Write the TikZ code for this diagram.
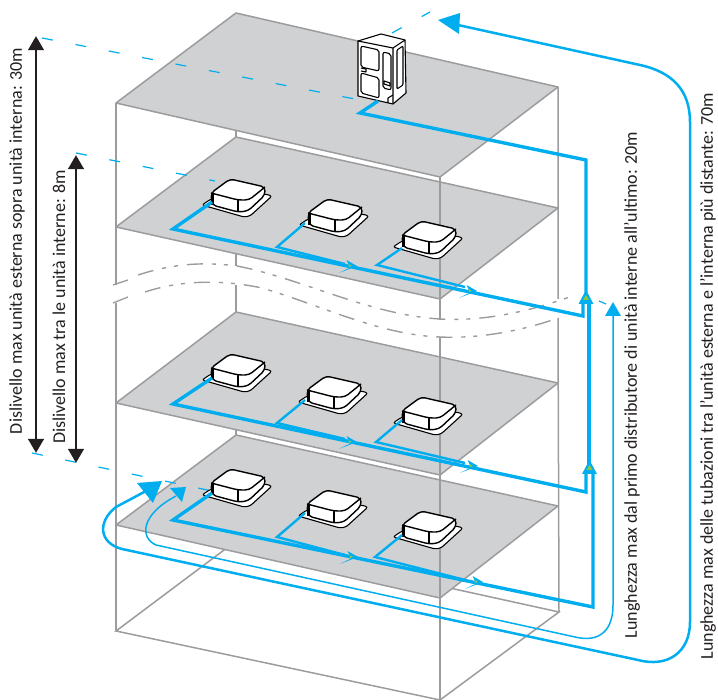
\documentclass[tikz,border=0pt]{standalone}
\usepackage{fontspec}
\setmainfont{Carlito}
\usetikzlibrary{arrows.meta}
\definecolor{pipe}{HTML}{00AEEF}
\definecolor{flr}{HTML}{D0D1D3}
\definecolor{edge}{HTML}{9C9C9E}
\definecolor{tipg}{HTML}{8DC63F}
\definecolor{ink}{HTML}{231F20}
\tikzset{
 x=1pt,y=-1pt,
 edgeline/.style={draw=edge,line width=1.5pt},
 floorplate/.style={fill=flr,draw=edge,line width=1.5pt,line join=round},
 breakline/.style={draw=edge,line width=1.4pt,dash pattern=on 16pt off 9pt on 4pt off 8pt on 4pt off 9pt},
 pipemain/.style={draw=pipe,line width=3.4pt,line join=miter},
 pipebranch/.style={draw=pipe,line width=2.4pt,line join=miter},
 loopline/.style={draw=pipe,line width=2.5pt},
 thinloop/.style={draw=pipe,line width=1.5pt},
 leader/.style={draw=pipe,line width=1.2pt,dash pattern=on 11pt off 23pt},
 dim/.style={draw=ink,line width=1.4pt,{Triangle[length=14pt,width=16pt]}-{Triangle[length=14pt,width=16pt]}},
 unitline/.style={draw=black,line width=1.1pt,line join=round},
 label/.style={rotate=90,font=\fontsize{18pt}{19pt}\selectfont,inner sep=0pt,anchor=center,text=ink},
 pics/cassette/.style={code={
  \path[fill=white,draw=black,line width=1.1pt,rounded corners=2.5pt] (-9,12)--(33,24)--(39,23)--(61,3)--(54,1)--(0,6)--cycle;
  \path[fill=white,draw=black,line width=1.4pt,rounded corners=4pt] (0,0)--(19,-14)--(54,-6)--(54,2)--(37,18)--(27,19)--(1,12)--cycle;
  \draw[black,line width=1.4pt,rounded corners=4pt] (0,0)--(27,7)--(38,7)--(54,-6);
  \draw[black,line width=1.4pt] (27,7)--(27,19);
  \draw[black,line width=3pt] (1,1)--(1,12);
 }},
}
\newcommand{\sarrow}[3]{% small arrow head with green centre: tip x, tip y, rotation
 \begin{scope}[shift={(#1,#2)},rotate=#3]
 \fill[pipe] (0,0)--(-9,-8)--(-7,0)--(-19,3)--cycle;
 \fill[tipg] (-5,-1.5)--(-8,-3.5)--(-8,-0.5)--cycle;
 \end{scope}}
\begin{document}
\begin{tikzpicture}
\useasboundingbox (0,0) rectangle (718,700);
\coordinate (fa) at (116,103); \coordinate (fb) at (236,13); \coordinate (fc) at (558,87); \coordinate (fd) at (440,177);
\coordinate (ga) at (116,227); \coordinate (gb) at (236,137); \coordinate (gc) at (558,208); \coordinate (gd) at (440,299);
\coordinate (ha) at (116,403); \coordinate (hb) at (236,312); \coordinate (hc) at (558,383); \coordinate (hd) at (440,475);
\coordinate (ia) at (116,525); \coordinate (ib) at (236,435); \coordinate (ic) at (558,506); \coordinate (id) at (440,598);
\coordinate (ja) at (116,631); \coordinate (jb) at (236,541); \coordinate (jc) at (559,612); \coordinate (jd) at (440,700);
\draw[edgeline] (236,13)--(236,266) (236,285)--(236,541);
\draw[edgeline] (jb)--(jc)--(jd) (jb)--(ja)--(jd);
\draw[edgeline] (116,103)--(116,285) (116,303)--(ja);
\draw[edgeline] (558,87)--(558,299) (558,318)--(jc);
\path[floorplate] (fa)--(fb)--(fc)--(fd)--cycle;
\path[floorplate] (ga)--(gb)--(gc)--(gd)--cycle;
\path[floorplate] (ha)--(hb)--(hc)--(hd)--cycle;
\path[floorplate] (ia)--(ib)--(ic)--(id)--cycle;
\draw[edgeline] (fd)--(440,320) (440,337)--(jd);
\draw[edgeline,line width=1.3pt] (113,285)--(128,280) (113,303)--(128,297);
\draw[breakline] (138,275) .. controls (175,263) and (205,262) .. (237,266) .. controls (300,278) and (370,315) .. (440,319) .. controls (490,322) and (540,308) .. (575,295);
\draw[breakline] (145,292) .. controls (175,282) and (215,278) .. (262,288) .. controls (320,305) and (380,335) .. (440,337) .. controls (480,339) and (525,330) .. (558,318);
\draw[leader] (42,38)--(360,100);
\draw[leader] (392,33)--(430,12);
\draw[leader] (76,153)--(215,181);
\draw[leader] (32,453)--(212,491);
\draw[leader] (599,301)--(606,304);
\foreach \px/\py in {211/193,308/213,402/235,211/368,307/390,402/411,211/483,307/504,402/525}
  \pic at (\px,\py) {cassette};
\path[unitline,fill=white] (358,41)--(381,34)--(405,40)--(406,93)--(393,104)--(358,96)--cycle;
\draw[unitline] (358,41)--(393,48)--(405,40) (393,48)--(393,104);
\draw[unitline,rounded corners=2pt] (361,46)--(379,50)--(379,71)--(361,67)--cycle;
\draw[unitline,rounded corners=2pt] (361,73)--(379,78)--(379,98)--(361,93)--cycle;
\draw[unitline,rounded corners=2pt] (383,52)--(391,54)--(391,90)--(383,88)--cycle;
\draw[unitline,rounded corners=1pt] (397,50)--(403,46)--(403,85)--(397,89)--cycle;
\draw[unitline] (361,68)--(366,69)--(366,72)--(361,71) (384,81)--(390,83)--(390,86)--(384,84)--cycle;
\draw[unitline] (388,103)--(388,98)--(393,95);
\draw[pipemain] (378,101)--(360,113)--(586,160)--(586,293);
\draw[pipemain] (212,202)--(173,229)--(583,316)--(583,300);
\draw[pipebranch] (305,223)--(277,247)--(345,264);
\draw[pipebranch] (402,248)--(377,265)--(465,287);
\draw[pipemain] (212,378)--(173,404)--(586,492)--(586,472);
\draw[pipebranch] (305,400)--(277,423)--(345,439);
\draw[pipebranch] (402,420)--(376,442)--(465,463);
\draw[pipemain] (212,493)--(173,520)--(593,607)--(593,472);
\draw[pipemain] (589,465)--(589,302);
\draw[pipebranch] (305,513)--(277,537)--(345,555);
\draw[pipebranch] (402,535)--(375,557)--(465,580);
\sarrow{357}{266}{12}
\sarrow{477}{291}{12}
\sarrow{357}{442}{12}
\sarrow{478}{466}{12}
\sarrow{358}{557}{12}
\sarrow{483}{582}{12}
\foreach \mx/\my in {586/290,589.5/460}{
 \fill[pipe] (\mx,\my)--(\mx+7.5,\my+14)--(\mx-7.5,\my+14)--cycle;
 \fill[tipg] (\mx,\my+5)--(\mx+3,\my+10)--(\mx-3,\my+10)--cycle;
}
\draw[loopline] (458,25)--(640,65) .. controls (672,72) and (690,90) .. (690,122)--(690,622) .. controls (690,652) and (668,668) .. (638,660)--(122,549) .. controls (99,543) and (97,522) .. (116,507)--(146,491);
\fill[pipe] (438,20)--(460,13)--(459,34)--cycle;
\fill[pipe] (162,481)--(137,483)--(153,503)--cycle;
\draw[thinloop] (613,316)--(613,605) .. controls (613,630) and (600,643) .. (575,637)--(156,545) .. controls (140,538) and (140,515) .. (176,496);
\fill[pipe] (613,302)--(621,316)--(605,316)--cycle;
\fill[pipe] (186,487)--(170,488)--(182,502)--cycle;
\node[inner sep=0pt,minimum size=0pt] (d1a) at (36,36) {};
\node[inner sep=0pt,minimum size=0pt] (d1b) at (36,453) {};
\node[inner sep=0pt,minimum size=0pt] (d2a) at (76,155) {};
\node[inner sep=0pt,minimum size=0pt] (d2b) at (76,463) {};
\draw[dim] (d1a)--(d1b);
\draw[dim] (d2a)--(d2b);
\node[label] (t1) at (17,241) {Dislivello max unità esterna sopra unità interna: 30m};
\node[label] (t2) at (59,307) {Dislivello max tra le unità interne: 8m};
\node[label] (t3) at (632,385) {Lunghezza max dal primo distributore di unità interne all'ultimo: 20m};
\node[label] (t4) at (708,376) {Lunghezza max delle tubazioni tra l'unità esterna e l'interna più distante: 70m};
\end{tikzpicture}
\end{document}
